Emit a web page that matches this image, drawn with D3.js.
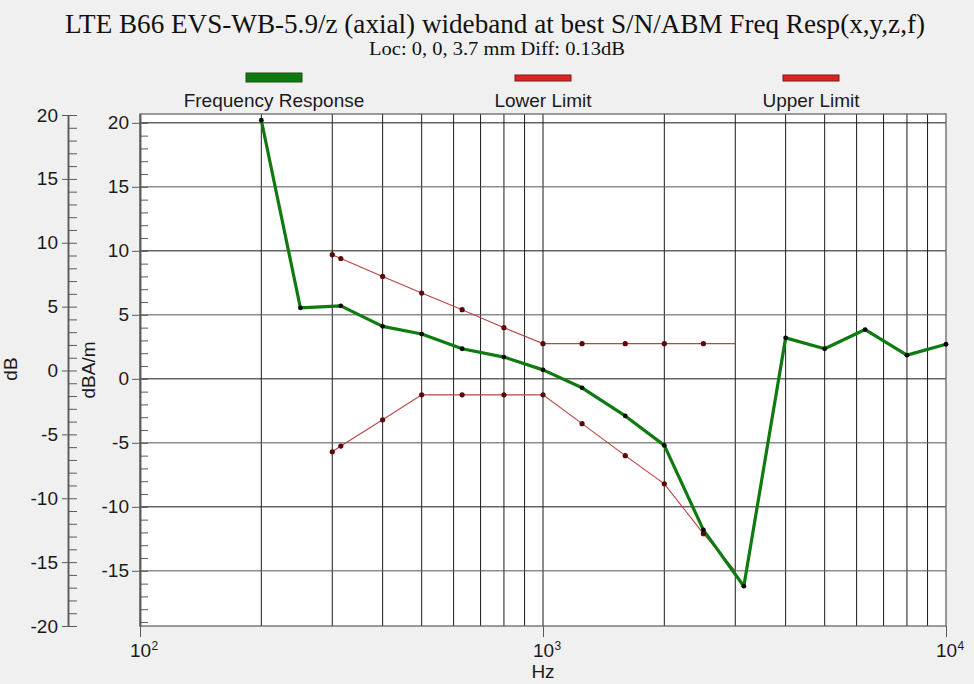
<!DOCTYPE html>
<html>
<head>
<meta charset="utf-8">
<script src="https://cdn.jsdelivr.net/npm/d3@7"></script>
<style>
  body { margin: 0; background: #f0f0f0; }
  svg { display: block; font-family: "Liberation Sans", Arial, sans-serif; }
  .serif { font-family: "Liberation Serif", "Times New Roman", serif; }
  .axis text { font-size: 19px; fill: #1a1a1a; }
  .axis path, .axis line { stroke: #5a5a5a; }
</style>
</head>
<body>
<div id="chart"></div>
<script>
// values
const respFreqs = [200, 250, 315, 400, 500, 630, 800, 1000, 1250, 1600, 2000, 2500, 3150, 4000, 5000, 6300, 8000, 10000]
const response = [20.2, 5.55, 5.7, 4.1, 3.5, 2.35, 1.7, 0.7, -0.7, -2.9, -5.2, -11.8, -16.2, 3.2, 2.35, 3.85, 1.85, 2.7]

const limitFreqs = [300, 315, 400, 500, 630, 800, 1000, 1250, 1600, 2000, 2500, 3000]
const upperLimit = [9.7, 9.4, 8.0, 6.7, 5.4, 4.0, 2.75, 2.75, 2.75, 2.75, 2.75, 2.75]
const lowerLimit = [-5.7, -5.25, -3.2, -1.25, -1.25, -1.25, -1.25, -3.5, -6.0, -8.2, -12.1, -15.0]
const limitMarked = [true, true, true, true, true, true, true, true, true, true, true, false]

const gridFreqs = [200, 300, 400, 500, 600, 700, 800, 900, 1000, 2000, 3000, 4000, 5000, 6000, 7000, 8000, 9000]
const xTickValues = [100, 1000, 10000]
const xTickExps = ["2", "3", "4"]

const titleText = "LTE B66 EVS-WB-5.9/z (axial) wideband at best S/N/ABM Freq Resp(x,y,z,f)"
const subtitleText = "Loc: 0, 0, 3.7 mm Diff: 0.13dB"
const legendNames = ["Frequency Response", "Lower Limit", "Upper Limit"]
const legendColors = ["#0e7a0e", "#dc2222", "#dc2222"]

const margin = { top: 114, right: 28, bottom: 58, left: 140 }
const width = 974 - margin.left - margin.right,
    height = 684 - margin.top - margin.bottom;

const root = d3.select("#chart")
    .append("svg")
    .attr("width", 974)
    .attr("height", 684)

// title + subtitle
root.append("text")
    .attr("class", "serif")
    .attr("x", 495).attr("y", 33)
    .attr("text-anchor", "middle")
    .attr("font-size", 28)
    .attr("textLength", 860).attr("lengthAdjust", "spacingAndGlyphs")
    .attr("fill", "#111")
    .text(titleText)

root.append("text")
    .attr("class", "serif")
    .attr("x", 497).attr("y", 55)
    .attr("text-anchor", "middle")
    .attr("font-size", 19)
    .attr("textLength", 256).attr("lengthAdjust", "spacingAndGlyphs")
    .attr("fill", "#111")
    .text(subtitleText)

// legend
const legendX = [274, 543, 811]
legendNames.forEach((name, i) => {
    root.append("rect")
        .attr("x", legendX[i] - 28).attr("y", i === 0 ? 73 : 75)
        .attr("width", 56).attr("height", i === 0 ? 9 : 6)
        .attr("fill", legendColors[i])
        .attr("stroke", i === 0 ? "#1d4d1d" : "#7a1a1a")
        .attr("stroke-width", 1)
    root.append("text")
        .attr("x", legendX[i]).attr("y", 107)
        .attr("text-anchor", "middle")
        .attr("font-size", 19)
        .attr("fill", "#1a1a1a")
        .text(name)
})

const svg = root.append("g")
    .attr("transform", "translate(" + margin.left + "," + margin.top + ")")

const xPositionScale = d3.scaleLog().domain([100, 10000]).range([0, width])
const yPositionScale = d3.scaleLinear().domain([-19.31, 20.69]).range([height, 0])
const yOuterScale = d3.scaleLinear().domain([-20, 20]).range([height, 1])

// plot background
svg.append("rect")
    .attr("width", width).attr("height", height)
    .attr("fill", "#fff")

// grid
svg.selectAll(".vgrid")
    .data(gridFreqs)
    .enter()
    .append("line")
    .attr("class", "vgrid")
    .attr("x1", d => xPositionScale(d)).attr("x2", d => xPositionScale(d))
    .attr("y1", 0).attr("y2", height)
    .attr("stroke", "#1a1a1a").attr("stroke-width", 1)

svg.selectAll(".hgrid")
    .data(d3.range(-15, 21, 5))
    .enter()
    .append("line")
    .attr("class", "hgrid")
    .attr("x1", 0).attr("x2", width)
    .attr("y1", d => yPositionScale(d)).attr("y2", d => yPositionScale(d))
    .attr("stroke", (d, i) => i % 2 ? "#1a1a1a" : "#555")
    .attr("stroke-width", 1)

svg.append("rect")
    .attr("width", width).attr("height", height)
    .attr("fill", "none")
    .attr("stroke", "#5a5a5a").attr("stroke-width", 1.2)

// plain hyphen minus like the original
const plain = d => String(d)

// inner axis (dBA/m)
const yAxis = d3.axisLeft(yPositionScale)
    .tickValues(d3.range(-15, 21, 5))
    .tickSize(8).tickSizeOuter(0).tickPadding(3).tickFormat(plain)
svg.append("g").attr("class", "axis y-axis").call(yAxis)

const yMinor = d3.axisRight(yPositionScale)
    .tickValues(d3.range(-19, 21, 1))
    .tickSize(8).tickSizeOuter(0).tickFormat("")
svg.append("g").attr("class", "axis y-minor").call(yMinor)

// outer axis (dB)
const yOuter = d3.axisLeft(yOuterScale)
    .tickValues(d3.range(-20, 21, 5))
    .tickSize(6).tickSizeOuter(0).tickPadding(4).tickFormat(plain)
svg.append("g").attr("class", "axis y-outer")
    .attr("transform", "translate(-72,0)")
    .call(yOuter)

const yOuterMinor = d3.axisRight(yOuterScale)
    .tickValues(d3.range(-20, 21, 1))
    .tickSize(9).tickSizeOuter(0).tickFormat("")
svg.append("g").attr("class", "axis y-outer-minor")
    .attr("transform", "translate(-72,0)")
    .call(yOuterMinor)

svg.selectAll(".axis .domain").attr("stroke-width", 1.5)

// x axis
const xAxis = d3.axisBottom(xPositionScale)
    .tickValues(xTickValues)
    .tickSize(11).tickSizeOuter(0).tickFormat(() => "10")
const xg = svg.append("g")
    .attr("class", "axis x-axis")
    .attr("transform", "translate(0," + height + ")")
    .call(xAxis)
xg.select(".domain").remove()
xg.selectAll(".tick text").attr("dy", 0).attr("y", 31)
xg.selectAll(".tick").append("text")
    .attr("x", 11).attr("y", 24)
    .attr("text-anchor", "start")
    .style("font-size", "12px")
    .text((d, i) => xTickExps[i])

xg.append("text")
    .attr("x", xPositionScale(1000)).attr("y", 52)
    .attr("text-anchor", "middle")
    .text("Hz")

// axis titles
root.append("text")
    .attr("transform", "translate(17,369) rotate(-90)")
    .attr("text-anchor", "middle")
    .attr("font-size", 19).attr("fill", "#1a1a1a")
    .text("dB")
root.append("text")
    .attr("transform", "translate(95,370) rotate(-90)")
    .attr("text-anchor", "middle")
    .attr("font-size", 19).attr("fill", "#1a1a1a")
    .text("dBA/m")

// series
const line = d3.line()
    .x(d => xPositionScale(d[0]))
    .y(d => yPositionScale(d[1]))

const plot = svg.append("g")

const upperPts = limitFreqs.map((f, i) => [f, upperLimit[i], limitMarked[i]])
const lowerPts = limitFreqs.map((f, i) => [f, lowerLimit[i], limitMarked[i]])
const respPts = respFreqs.map((f, i) => [f, response[i]])

plot.selectAll(".limit")
    .data([upperPts, lowerPts])
    .enter()
    .append("path")
    .attr("class", "limit")
    .attr("fill", "none")
    .attr("stroke", "#bb4444")
    .attr("stroke-width", 1.1)
    .attr("d", d => line(d))

plot.append("path")
    .attr("fill", "none")
    .attr("stroke", "#0f7a10")
    .attr("stroke-width", 3.2)
    .attr("stroke-linejoin", "round")
    .attr("d", line(respPts))

plot.selectAll(".limit-dot")
    .data(upperPts.concat(lowerPts).filter(d => d[2]))
    .enter()
    .append("circle")
    .attr("class", "limit-dot")
    .attr("cx", d => xPositionScale(d[0]))
    .attr("cy", d => yPositionScale(d[1]))
    .attr("r", 2.6)
    .attr("fill", "#5a0808")

plot.selectAll(".resp-dot")
    .data(respPts)
    .enter()
    .append("circle")
    .attr("class", "resp-dot")
    .attr("cx", d => xPositionScale(d[0]))
    .attr("cy", d => yPositionScale(d[1]))
    .attr("r", 2.4)
    .attr("fill", "#0a0a0a")
</script>
</body>
</html>
